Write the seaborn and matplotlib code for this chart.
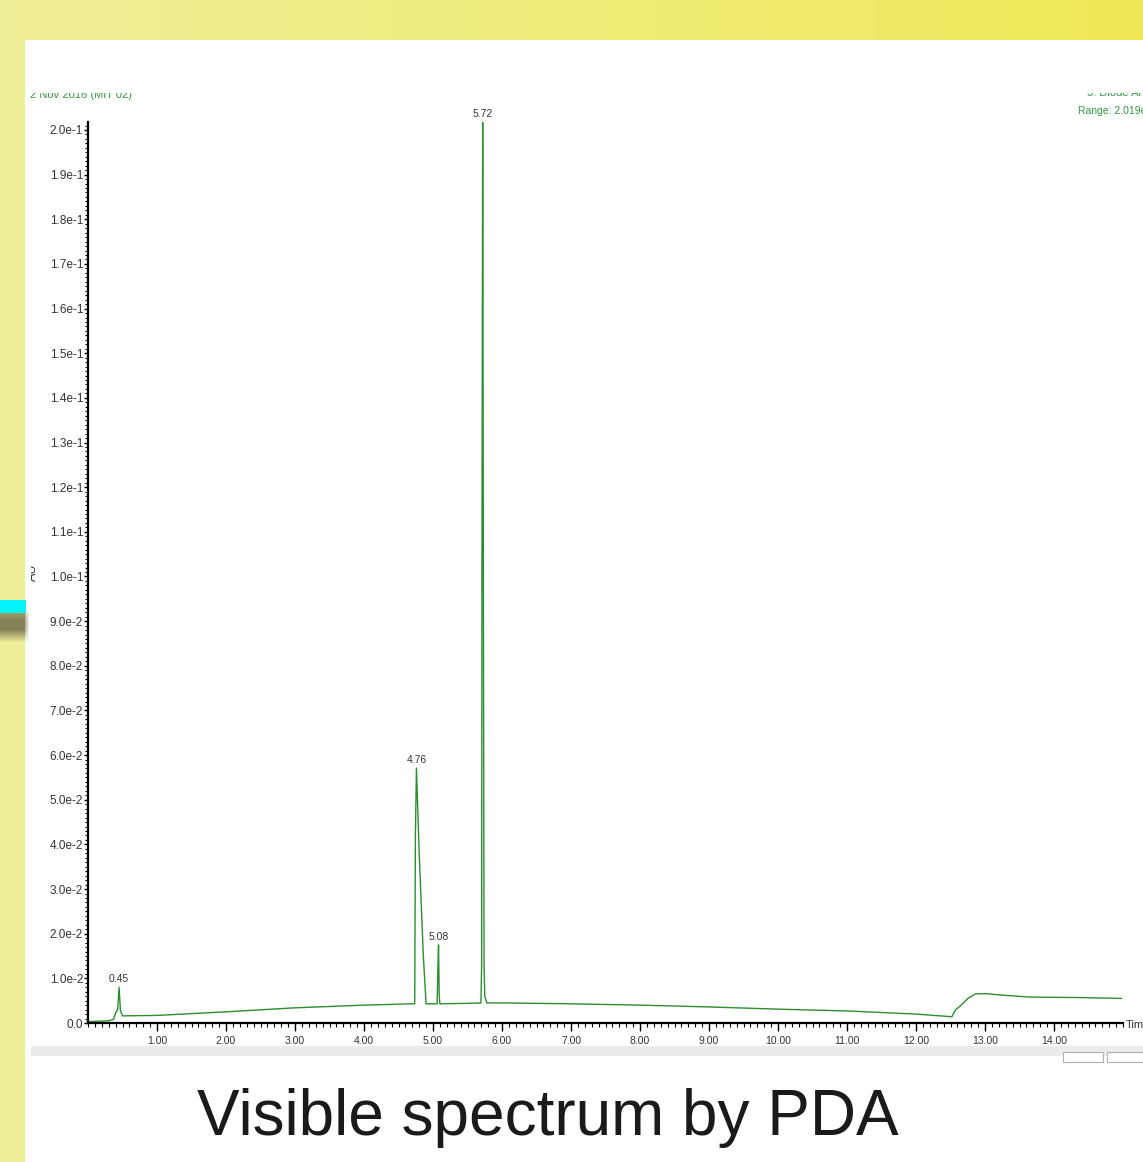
"""Chromatogram slide: visible spectrum by PDA."""

import numpy as np
import pandas as pd
import matplotlib
matplotlib.use("Agg")
import matplotlib.pyplot as plt
import seaborn as sns
from matplotlib.patches import Rectangle
from matplotlib.ticker import FixedLocator, MultipleLocator

# trace breakpoints (time in min, absorbance in AU)
time_min = [0.00, 0.30, 0.37, 0.40, 0.43, 0.45, 0.47, 0.50, 1.00, 2.00, 3.00,
            4.00, 4.70, 4.735, 4.745, 4.76, 4.80, 4.86, 4.90, 5.00, 5.06,
            5.07, 5.08, 5.09, 5.10, 5.50, 5.695, 5.705, 5.71, 5.72, 5.73,
            5.74, 5.75, 5.78, 6.00, 7.00, 8.00, 9.00, 10.00, 11.00, 12.00,
            12.52, 12.57, 12.64, 12.76, 12.86, 13.00, 13.20, 13.65, 14.37, 14.98]
absorbance = [0.0003, 0.0005, 0.0008, 0.0022, 0.0030, 0.0080, 0.0028, 0.0016,
              0.0017, 0.0025, 0.0034, 0.0040, 0.0043, 0.0043, 0.0420, 0.0571,
              0.0380, 0.0150, 0.0043, 0.0043, 0.0043, 0.0120, 0.0175, 0.0060,
              0.0043, 0.0044, 0.0045, 0.0130, 0.1100, 0.2017, 0.1000, 0.0130,
              0.0060, 0.0045, 0.0045, 0.0043, 0.0040, 0.0036, 0.0031, 0.0027,
              0.0020, 0.0014, 0.0029, 0.0038, 0.0056, 0.0065, 0.0066, 0.0063,
              0.0058, 0.0057, 0.0055]

peak_labels = ["0.45", "4.76", "5.08", "5.72"]
peak_times = [0.45, 4.76, 5.08, 5.72]
peak_heights = [0.0080, 0.0571, 0.0175, 0.2017]

x_ticks = [1, 2, 3, 4, 5, 6, 7, 8, 9, 10, 11, 12, 13, 14]
x_tick_labels = ["1.00", "2.00", "3.00", "4.00", "5.00", "6.00", "7.00",
                 "8.00", "9.00", "10.00", "11.00", "12.00", "13.00", "14.00"]
y_ticks = [0.00, 0.01, 0.02, 0.03, 0.04, 0.05, 0.06, 0.07, 0.08, 0.09, 0.10,
           0.11, 0.12, 0.13, 0.14, 0.15, 0.16, 0.17, 0.18, 0.19, 0.20]
y_tick_labels = ["0.0", "1.0e-2", "2.0e-2", "3.0e-2", "4.0e-2", "5.0e-2",
                 "6.0e-2", "7.0e-2", "8.0e-2", "9.0e-2", "1.0e-1", "1.1e-1",
                 "1.2e-1", "1.3e-1", "1.4e-1", "1.5e-1", "1.6e-1", "1.7e-1",
                 "1.8e-1", "1.9e-1", "2.0e-1"]

W, H = 1143, 1162
TRACE = "#2b8f2e"
HEAD_GREEN = "#2f9a3c"
INK = "#333333"
FONT = ["Liberation Sans", "DejaVu Sans"]

sns.set_style("white")
plt.rcParams["font.family"] = FONT

fig = plt.figure(figsize=(W / 100, H / 100), dpi=100)
fig.patch.set_facecolor("white")


def px_axes(x0, y0, x1, y1, z):
    a = fig.add_axes([x0 / W, 1 - y1 / H, (x1 - x0) / W, (y1 - y0) / H], zorder=z)
    a.set_xlim(x0, x1)
    a.set_ylim(y1, y0)
    a.set_axis_off()
    return a


# chart
ax = fig.add_axes([88 / W, 139 / H, 1035 / W, (1023 - 121.5) / H], zorder=1)
df = pd.DataFrame({"time": time_min, "au": absorbance})
sns.lineplot(data=df, x="time", y="au", ax=ax, color=TRACE, linewidth=1.0,
             estimator=None, sort=False)
ax.lines[0].set_clip_on(False)
ax.set_xlim(0, 15)
ax.set_ylim(0, 0.2019)
ax.set_xlabel("")
ax.set_ylabel("")
ax.set_facecolor("none")
for s in ["top", "right"]:
    ax.spines[s].set_visible(False)
for s in ["left", "bottom"]:
    ax.spines[s].set_color("black")
    ax.spines[s].set_linewidth(1.6)

ax.xaxis.set_major_locator(FixedLocator(x_ticks))
ax.set_xticklabels(x_tick_labels, fontsize=7.5)
ax.xaxis.set_minor_locator(MultipleLocator(0.1))
ax.yaxis.set_major_locator(FixedLocator(y_ticks))
ax.set_yticklabels(y_tick_labels, fontsize=8.5)
ax.yaxis.set_minor_locator(MultipleLocator(0.001))
ax.tick_params(axis="x", which="major", direction="out", length=6, width=1,
               pad=3, bottom=True, colors="black", labelcolor=INK)
ax.tick_params(axis="x", which="minor", direction="out", length=3, width=0.8,
               bottom=True, colors="black")
ax.tick_params(axis="y", which="major", direction="out", length=3, width=1,
               pad=0.5, left=True, colors="black", labelcolor=INK)
ax.tick_params(axis="y", which="minor", direction="out", length=2, width=0.8,
               left=True, colors="black")

for lab, t, h in zip(peak_labels, peak_times, peak_heights):
    ax.annotate(lab, (t, h), xytext=(0, 3), textcoords="offset pixels",
                ha="center", va="bottom", fontsize=7.5, color=INK,
                annotation_clip=False)

# texts on the slide
over = px_axes(0, 0, W, H, 2)
over.text(1126, 1025, "Time", fontsize=8, color=INK, ha="left", va="center")
over.text(547.5, 1135, "Visible spectrum by PDA", fontsize=46,
          color="#1a1a1a", ha="center", va="baseline")

# grey status strip below the plot
over.add_patch(Rectangle((31, 1046), W - 31, 10, color="#ebebeb", lw=0))
over.add_patch(Rectangle((1063, 1052), 40, 10, fc="white", ec="#b0b0b0", lw=0.8))
over.add_patch(Rectangle((1107, 1052), 40, 10, fc="white", ec="#b0b0b0", lw=0.8))

# axis title, half hidden behind the slide frame
au_box = px_axes(30.5, 540, 80, 610, 3)
au_box.text(33, 572, "AU", fontsize=9, color=INK, rotation=90,
            ha="center", va="center", clip_on=True)

# header texts cut at the top
head = px_axes(25, 92.5, W, 130, 3)
head.text(30, 94.5, "2 Nov 2016 (MIT 02)", fontsize=8, color=HEAD_GREEN,
          ha="left", va="center", clip_on=True)
head.text(1087, 93.5, "3: Diode Array", fontsize=8, color=HEAD_GREEN,
          ha="left", va="center", clip_on=True)
head.text(1078, 111, "Range: 2.019e-1", fontsize=7.5, color=HEAD_GREEN,
          ha="left", va="center", clip_on=True)

# slide decoration: yellow frame, cyan marker and shadow
deco = px_axes(0, 0, W, H, 10)
deco.add_patch(Rectangle((0, 0), 25, H, color="#eeee98", lw=0, zorder=1))
grad = np.linspace(0, 1, 256)[None, :, None]
left_c = np.array([238, 238, 152]) / 255
right_c = np.array([240, 233, 88]) / 255
deco.imshow(left_c + grad * (right_c - left_c), extent=(0, W, 40, 0),
            aspect="auto", interpolation="bilinear", zorder=2)
shade = np.zeros((30, 30, 4))
shade[..., :3] = np.array([128, 124, 84]) / 255
fade_y = np.concatenate([np.linspace(0.75, 0.95, 8), np.full(8, 0.95),
                         np.linspace(0.95, 0.0, 14)])
fade_x = np.concatenate([np.ones(25), np.linspace(0.6, 0, 5)])
shade[..., 3] = fade_y[:, None] * fade_x[None, :]
deco.imshow(shade, extent=(0, 30, 643, 613), aspect="auto",
            interpolation="bilinear", zorder=3)
deco.add_patch(Rectangle((0, 600), 26, 13, color="#00f4fa", lw=0, zorder=4))
deco.set_xlim(0, W)
deco.set_ylim(H, 0)

fig.savefig("out.png", dpi=100)
plt.close(fig)
